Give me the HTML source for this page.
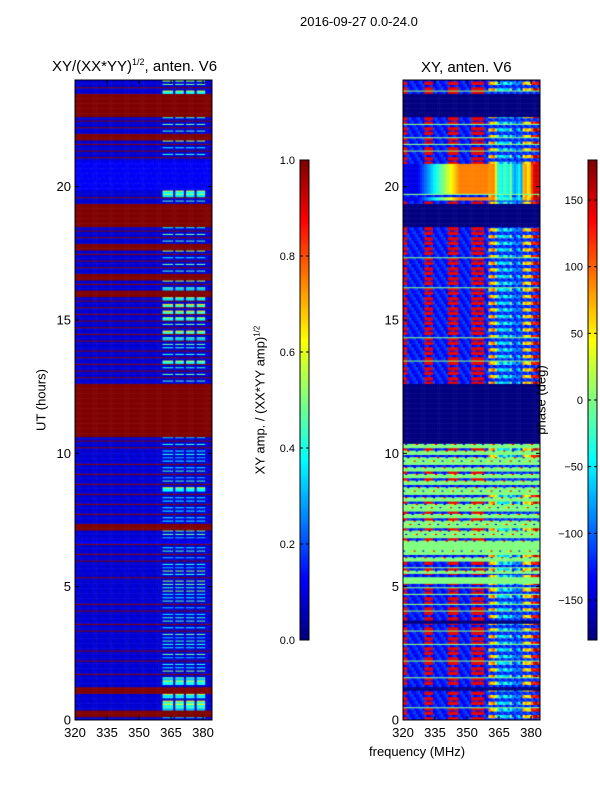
<!DOCTYPE html>
<html><head><meta charset="utf-8">
<style>
body{margin:0;background:#fff;}
#root{position:relative;width:600px;height:800px;background:#fff;font-family:"Liberation Sans","DejaVu Sans",sans-serif;color:#000;overflow:hidden;}
canvas{position:absolute;}
.t{position:absolute;white-space:nowrap;font-size:13px;}
</style></head>
<body>
<div id="root">
<div class="t" style="left:300px;top:14px;font-size:13px;">2016-09-27 0.0-24.0</div>
<div class="t" style="left:52px;top:57px;font-size:15px;">XY/(XX*YY)<sup style="font-size:9px">1/2</sup>, anten. V6</div>
<div class="t" style="left:421px;top:59px;font-size:15px;">XY, anten. V6</div>
<canvas id="cL" width="137" height="640" style="left:75px;top:80px"></canvas>
<canvas id="cR" width="137" height="640" style="left:403px;top:80px"></canvas>
<canvas id="cb1" width="9" height="480" style="left:300px;top:160px"></canvas>
<canvas id="cb2" width="9" height="480" style="left:588px;top:160px"></canvas>
<svg id="ov" width="600" height="800" style="position:absolute;left:0;top:0"></svg>
<div class="t" style="left:41px;top:400px;transform:translate(-50%,-50%) rotate(-90deg);">UT (hours)</div>
<div class="t" style="left:260px;top:400px;transform:translate(-50%,-50%) rotate(-90deg);">XY amp. / (XX*YY amp)<sup style="font-size:8px">1/2</sup></div>
<div class="t" style="left:541px;top:400px;transform:translate(-50%,-50%) rotate(-90deg);">phase (deg)</div>
<div class="t" style="left:369px;top:744px;">frequency (MHz)</div>
</div>
<script>
// 192 time bins (0.125 h each), index 0 = 0h
const leftRows = ("4RR78867"+"RR577R65"+"5R46R555"+"46R5R564"+"R4R55466"+"66R5645R"+"4R55R346"+"5RR45R45"+
 "R45R49R5"+"4R55R445"+"4R5R4RRR"+"RRRRRRRR"+"RRRRR5R6"+"R6R7R5R6"+"6R7R8R6R"+"9R8R9R8R"+
 "R7R6RR5R"+"6R5R6RR5"+"R6R5RRRR"+"RRR5R773"+"33222222"+"R5R5R6RR"+"5R6R6RRR"+"RRRR7R66").split("");
const rightRows = ("BBBGBBBB"+"BNBBGBBB"+"BGBBBBGB"+"BBGBBNBB"+"GBGBBGBG"+"BGGBYGBG"+"YGYGGYGY"+"YGYYGYGY"+
 "YGYGYYGY"+"GYGYGYYG"+"YGYNNNNN"+"NNNNNNNN"+"NNNNNBBB"+"BBBGBBBB"+"BBGBBBBB"+"BBBBBBBB"+
 "BGBBBBBB"+"BBGBBBBB"+"BBBBNNNN"+"NNNBWGWW"+"WWWWWWWB"+"BBGBGBGB"+"BBGBBNNN"+"NNNNGBBB").split("");
// frequency columns 320..383 MHz (1 MHz)
const patchBands = [[361,365],[367,370],[372,375],[377,380]];
const redStripes = [[320,321],[330,333],[341,345],[352,357]];
const rightProfile = [0.7,0.7,0.72,0.6,0.35,0.35,0.3,0.4,0.35,0.3,0.45,0.25,0.2,0.25,0.3,0.2,0.65,0.7,0.6,0.65,0.8,0.9,0.92,0.9];
const yTicks=[0,5,10,15,20], xTicks=[320,335,350,365,380];
const cb1Ticks=[0,0.2,0.4,0.6,0.8,1.0], cb2Ticks=[-150,-100,-50,0,50,100,150];

const F0=320,F1=384.2,H0=0,H1=24;
function jet(t){t=Math.max(0,Math.min(1,t));const c=v=>Math.round(255*Math.max(0,Math.min(1,v)));
 return `rgb(${c(1.5-Math.abs(4*t-3))},${c(1.5-Math.abs(4*t-2))},${c(1.5-Math.abs(4*t-1))})`;}
const xs=(f,x0)=>x0+(f-F0)/(F1-F0)*137;
const ys=h=>720-(h-H0)/(H1-H0)*640;
const inB=(f,arr)=>arr.some(b=>f>=b[0]&&f<=b[1]);
function isolated(rows,i,ch){return rows[i]===ch && rows[i-1]!==ch && rows[i+1]!==ch;}

function draw(id,rows,x0,cellFn,thinCh,filler){
 const ctx=document.getElementById(id).getContext('2d');
 const nb=rows.length, dh=24/nb;
 rows.forEach((code,i)=>{
  for(let s=0;s<2;s++){
   let c=code;
   if(s===1 && isolated(rows,i,thinCh)) c=filler;
   const hTop=(i+1-s*0.5)*dh, hBot=hTop-dh/2;
   for(let f=320;f<=384;f++){
    ctx.fillStyle=jet(cellFn(c,i,s,f));
    const xa=xs(f,x0)-x0, xb=xs(f+1,x0)-x0;
    ctx.fillRect(xa,ys(hTop)-80,xb-xa+0.5,ys(hBot)-ys(hTop)+0.5);
   }
  }
 });
}
draw('cL',leftRows,75,(code,i,s,f)=>{
 if(code==='R') return 1.0;
 const d=+code;
 const base=d<=3?0.1+((f*7+i)%5)*0.008:0.07+((f+i)%4)*0.008;
 if(inB(f,patchBands)&&d>3&&(s===0||d>6)){const w=s===0?1:0.6;return Math.min(0.8,0.08+d*0.07*w*(0.8+((f*3+i)%3)*0.12));}
 return base;
},'R','4');
draw('cR',rightRows,403,(code,i,s,f)=>{
 if(code==='N') return 0.0;
 if(code==='G') return 0.5;
 if(code==='Y'){ if(s===1) return 0.5; const k=(i*13+f*7)%9; return k===0?0.9:k===1?0.12:k===2?0.65:0.5;}
 if(code==='W'){ if(f<360) return 0.1+0.65*Math.max(0,Math.min(1,(f-326)/20)); return rightProfile[Math.min(23,f-360)]*0.9+0.1;}
 if(f>=360) return ((i+s)%2===0)?rightProfile[Math.min(23,f-360)]+(((i+f)%4)-1.5)*0.05:0.12+((f+i)%3)*0.05;
 if(inB(f,redStripes)&&((i+s)%3!==2)) return 0.9;
 return 0.1+((f*5+i)%4)*0.03;
},'G','B');
function cbar(id){const ctx=document.getElementById(id).getContext('2d');for(let y=0;y<480;y++){ctx.fillStyle=jet(1-y/479);ctx.fillRect(0,y,9,1);}}
cbar('cb1');cbar('cb2');

const ov=document.getElementById('ov');
const NS='http://www.w3.org/2000/svg';
function el(tag,attrs,txt){const e=document.createElementNS(NS,tag);for(const k in attrs)e.setAttribute(k,attrs[k]);if(txt!==undefined)e.textContent=txt;ov.appendChild(e);return e;}
[[75,'left'],[403,'right']].forEach(([x0,nm])=>{
 const fr=el('rect',{x:x0,y:80,width:137,height:640,fill:'none',stroke:'#000','stroke-width':1});
 
 
 yTicks.forEach(v=>{
  const y=ys(v);
  el('line',{x1:x0,x2:x0+4,y1:y,y2:y,stroke:'#000'});
  el('line',{x1:x0+137,x2:x0+133,y1:y,y2:y,stroke:'#000'});
  const t=el('text',{x:x0-4,y:y+4.5,'text-anchor':'end','font-size':13,'font-family':'Liberation Sans, sans-serif'},String(v));
  
  
 });
 xTicks.forEach(v=>{
  const x=xs(v,x0);
  el('line',{x1:x,x2:x,y1:720,y2:716,stroke:'#000'});
  el('line',{x1:x,x2:x,y1:80,y2:84,stroke:'#000'});
  const t=el('text',{x:x,y:737,'text-anchor':'middle','font-size':13,'font-family':'Liberation Sans, sans-serif'},String(v));
  
  
 });
});
function cbAxis(x0,ticks,lo,hi,nm){
 el('rect',{x:x0,y:160,width:9,height:480,fill:'none',stroke:'#000'});
 ticks.forEach(v=>{
  const y=640-(v-lo)/(hi-lo)*480;
  el('line',{x1:x0,x2:x0+3,y1:y,y2:y,stroke:'#000'});
  el('line',{x1:x0+9,x2:x0+6,y1:y,y2:y,stroke:'#000'});
  const t=el('text',{x:x0-5,y:y+4,'text-anchor':'end','font-size':11,'font-family':'Liberation Sans, sans-serif'},nm==='amp'?v.toFixed(1):String(v).replace('-','\u2212'));
  
  
 });
}
cbAxis(300,cb1Ticks,0,1,'amp');
cbAxis(588,cb2Ticks,-180,180,'phase');
</script>
</body></html>
